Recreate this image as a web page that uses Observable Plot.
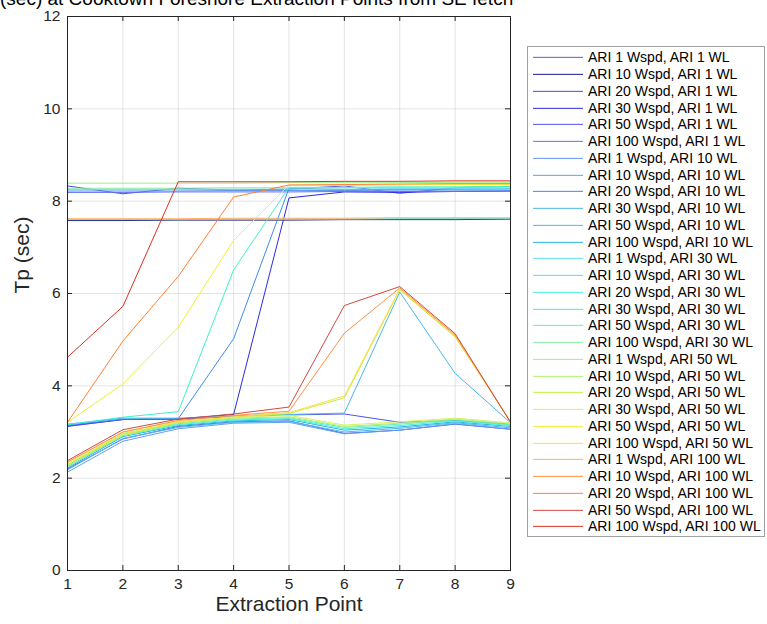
<!DOCTYPE html>
<html><head><meta charset="utf-8">
<script src="https://cdn.jsdelivr.net/npm/d3@7"></script>
<script src="https://cdn.jsdelivr.net/npm/@observablehq/plot@0.6"></script>
<style>
body{margin:0;background:#fff;}
#wrap{position:relative;width:767px;height:624px;overflow:hidden;font-family:"Liberation Sans",Arial,sans-serif;background:#fff;}
#chart{position:absolute;left:0;top:0;}
#title{position:absolute;left:0;top:-11px;font-size:19px;line-height:19px;white-space:nowrap;color:#000;}
#legend{position:absolute;left:527px;top:46px;width:238px;height:491px;border:1px solid #a0a0a0;background:#fff;box-sizing:border-box;}
.row{position:absolute;left:0;height:16.7px;width:236px;font-size:14px;color:#000;}
.row svg{position:absolute;left:5px;top:0;}
.row span{position:absolute;left:60px;top:0;line-height:16.7px;white-space:nowrap;}
</style>
</head><body>
<div id="wrap">
  <div id="chart"></div>
  <div id="title">(sec) at Cooktown Foreshore Extraction Points from SE fetch</div>
  <div id="legend"></div>
</div>
<script>
const extractionPoints = [1, 2, 3, 4, 5, 6, 7, 8, 9];
const yTicks = [0, 2, 4, 6, 8, 10, 12];
const seriesNames = [
  "ARI 1 Wspd, ARI 1 WL", "ARI 10 Wspd, ARI 1 WL", "ARI 20 Wspd, ARI 1 WL", "ARI 30 Wspd, ARI 1 WL",
  "ARI 50 Wspd, ARI 1 WL", "ARI 100 Wspd, ARI 1 WL",
  "ARI 1 Wspd, ARI 10 WL", "ARI 10 Wspd, ARI 10 WL", "ARI 20 Wspd, ARI 10 WL", "ARI 30 Wspd, ARI 10 WL",
  "ARI 50 Wspd, ARI 10 WL", "ARI 100 Wspd, ARI 10 WL",
  "ARI 1 Wspd, ARI 30 WL", "ARI 10 Wspd, ARI 30 WL", "ARI 20 Wspd, ARI 30 WL", "ARI 30 Wspd, ARI 30 WL",
  "ARI 50 Wspd, ARI 30 WL", "ARI 100 Wspd, ARI 30 WL",
  "ARI 1 Wspd, ARI 50 WL", "ARI 10 Wspd, ARI 50 WL", "ARI 20 Wspd, ARI 50 WL", "ARI 30 Wspd, ARI 50 WL",
  "ARI 50 Wspd, ARI 50 WL", "ARI 100 Wspd, ARI 50 WL",
  "ARI 1 Wspd, ARI 100 WL", "ARI 10 Wspd, ARI 100 WL", "ARI 20 Wspd, ARI 100 WL", "ARI 50 Wspd, ARI 100 WL",
  "ARI 100 Wspd, ARI 100 WL"
];
// Tp (sec) per series at extraction points 1..9
const tpValues = [
  [2.20, 2.85, 3.12, 3.22, 3.24, 2.97, 3.04, 3.17, 3.06],
  [7.58, 7.58, 7.59, 7.59, 7.59, 7.60, 7.60, 7.60, 7.61],
  [8.33, 8.16, 8.28, 8.24, 8.26, 8.33, 8.17, 8.29, 8.32],
  [3.13, 3.27, 3.28, 3.38, 8.07, 8.20, 8.19, 8.21, 8.22],
  [3.12, 3.27, 3.28, 3.33, 3.37, 3.39, 3.21, 3.25, 3.17],
  [8.19, 8.19, 8.20, 8.20, 8.20, 8.21, 8.21, 8.21, 8.22],
  [8.22, 8.22, 8.22, 8.23, 8.23, 8.23, 8.24, 8.24, 8.24],
  [2.13, 2.80, 3.07, 3.19, 3.21, 2.96, 3.04, 3.18, 3.06],
  [3.15, 3.28, 3.29, 5.02, 8.28, 8.25, 8.26, 8.26, 8.27],
  [2.18, 2.86, 3.10, 3.21, 3.23, 3.00, 3.08, 3.20, 3.09],
  [3.17, 3.30, 3.30, 3.35, 3.38, 3.41, 6.03, 4.27, 3.20],
  [2.22, 2.90, 3.14, 3.24, 3.27, 3.04, 3.11, 3.22, 3.12],
  [8.25, 8.25, 8.25, 8.26, 8.26, 8.26, 8.27, 8.27, 8.27],
  [7.60, 7.60, 7.60, 7.61, 7.61, 7.61, 7.62, 7.62, 7.62],
  [2.25, 2.92, 3.16, 3.26, 3.29, 3.07, 3.14, 3.24, 3.14],
  [3.16, 3.32, 3.44, 6.51, 8.30, 8.30, 8.31, 8.31, 8.32],
  [2.28, 2.95, 3.18, 3.28, 3.31, 3.10, 3.17, 3.26, 3.16],
  [8.28, 8.28, 8.28, 8.29, 8.29, 8.29, 8.30, 8.30, 8.30],
  [8.39, 8.39, 8.39, 8.39, 8.40, 8.40, 8.40, 8.41, 8.41],
  [2.30, 2.97, 3.20, 3.30, 3.33, 3.12, 3.19, 3.28, 3.18],
  [2.27, 2.92, 3.20, 3.31, 3.40, 3.74, 6.08, 5.06, 3.23],
  [2.33, 3.00, 3.23, 3.32, 3.36, 3.15, 3.22, 3.30, 3.20],
  [3.21, 4.04, 5.27, 7.15, 8.35, 8.34, 8.35, 8.36, 8.36],
  [2.30, 2.95, 3.22, 3.33, 3.42, 3.78, 6.10, 5.08, 3.22],
  [7.62, 7.62, 7.62, 7.63, 7.63, 7.63, 7.64, 7.64, 7.64],
  [2.35, 3.00, 3.25, 3.36, 3.45, 5.14, 6.12, 5.10, 3.22],
  [3.21, 4.97, 6.37, 8.09, 8.35, 8.36, 8.37, 8.38, 8.38],
  [2.38, 3.05, 3.28, 3.39, 3.54, 5.74, 6.15, 5.13, 3.21],
  [4.62, 5.72, 8.42, 8.42, 8.42, 8.43, 8.43, 8.44, 8.44]
];
const seriesColors = [
  "#5a5ae6", "#1a1a8c", "#4848f0", "#2a2ae0", "#5050f0", "#6070f0",
  "#6090f0", "#60a0f0", "#3c8cf0", "#50b8f0", "#48b8ee", "#20b8e8",
  "#60e0f0", "#40e8f0", "#48f0e0", "#40f0c8", "#60f0c0", "#80f0a0",
  "#98f088", "#b0f070", "#c0f040", "#d8f060", "#f0f030", "#ffe040",
  "#ffb060", "#ff9040", "#ff8030", "#d04a40", "#e03020"
];

const W = 767, H = 624, mL = 67, mR = 257, mT = 16, mB = 54;
const plotW = W - mL - mR, plotH = H - mT - mB;
const axisColor = "#262626";
const font = "'Liberation Sans', Arial, sans-serif";

const rows = seriesNames.flatMap((s, i) =>
  extractionPoints.map((x, j) => ({series: s, point: x, tp: tpValues[i][j]})));

const chart = Plot.plot({
  width: W, height: H,
  marginLeft: mL, marginRight: mR, marginTop: mT, marginBottom: mB,
  style: {fontFamily: font, fontSize: "15px", color: axisColor, background: "transparent"},
  x: {domain: [1, 9]},
  y: {domain: [0, 12]},
  color: {domain: seriesNames, range: seriesColors},
  marks: [
    Plot.gridX(extractionPoints, {stroke: axisColor, strokeOpacity: 0.12}),
    Plot.gridY(yTicks, {stroke: axisColor, strokeOpacity: 0.12}),
    Plot.line(rows, {x: "point", y: "tp", z: "series", stroke: "series", strokeWidth: 1}),
    Plot.frame({stroke: axisColor}),
    Plot.tickX(extractionPoints, {x: d => d, insetTop: plotH - 5, stroke: axisColor}),
    Plot.tickX(extractionPoints, {x: d => d, insetBottom: plotH - 5, stroke: axisColor}),
    Plot.tickY(yTicks, {y: d => d, insetRight: plotW - 5, stroke: axisColor}),
    Plot.tickY(yTicks, {y: d => d, insetLeft: plotW - 5, stroke: axisColor}),
    Plot.axisX(extractionPoints, {tickSize: 0, tickPadding: 7, label: null, fontSize: 15.5, fill: axisColor}),
    Plot.axisY(yTicks, {tickSize: 0, tickPadding: 7, label: null, fontSize: 15.5, fill: axisColor}),
    Plot.text(["Extraction Point"], {text: d => d, frameAnchor: "bottom", dy: 40, fontSize: 21, fill: axisColor}),
    Plot.text(["Tp (sec)"], {text: d => d, frameAnchor: "left", rotate: -90, dx: -45, fontSize: 21, fill: axisColor})
  ]
});
document.getElementById("chart").appendChild(chart);

const legend = document.getElementById("legend");
seriesNames.forEach((name, i) => {
  const row = document.createElement("div");
  row.className = "row";
  row.style.top = (2.4 + i * 16.75) + "px";
  row.innerHTML = `<svg width="50" height="16.7"><line x1="0" x2="50" y1="8.35" y2="8.35" stroke="${seriesColors[i]}" stroke-width="1"/></svg><span>${name}</span>`;
  legend.appendChild(row);
});
</script>
</body></html>
